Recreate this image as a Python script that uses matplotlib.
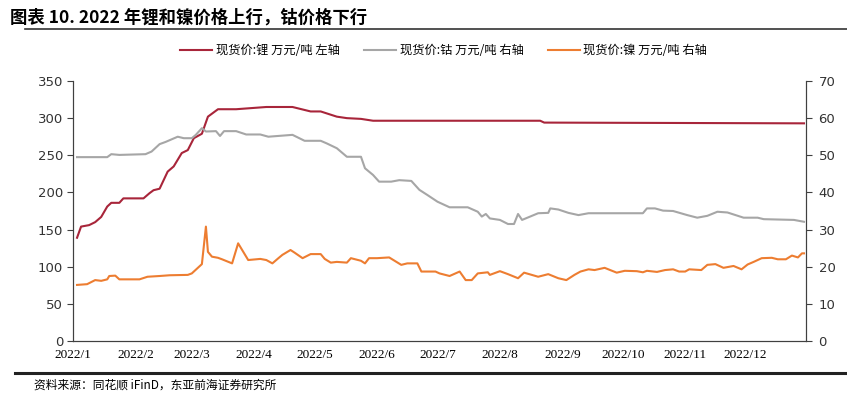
import matplotlib
matplotlib.use("Agg")
import matplotlib.pyplot as plt
import matplotlib.dates as mdates
import pandas as pd

plt.rcParams['font.family'] = ['Noto Sans CJK SC', 'DejaVu Sans']

# 锂 (左轴)
li_dates = ["01-03", "01-05", "01-09", "01-12", "01-15", "01-18", "01-20", "01-24", "01-26",
            "02-05", "02-08", "02-10", "02-13", "02-17", "02-20", "02-24", "02-27", "03-02",
            "03-06", "03-09", "03-11", "03-14", "03-23", "04-07", "04-20", "04-29", "05-04",
            "05-12", "05-17", "05-24", "05-30", "08-21", "08-23", "12-30"]
li_vals = [139, 154, 156, 160, 167, 181, 186, 186, 192,
           192, 199, 203, 205, 228, 235, 253, 257, 273,
           279, 302, 306, 312, 312, 315, 315, 309, 309,
           302, 300, 299, 296.5, 296.5, 294, 293]

# 钴 (右轴)
co_dates = ["01-03", "01-11", "01-18", "01-20", "01-24", "02-06", "02-09", "02-13", "02-16",
            "02-22", "02-25", "03-01", "03-03", "03-06", "03-08", "03-13", "03-15", "03-17",
            "03-23", "03-28", "04-04", "04-08", "04-20", "04-26", "05-04", "05-07", "05-12",
            "05-17", "05-24", "05-26", "05-28", "05-30", "06-02", "06-08", "06-12", "06-18",
            "06-22", "06-26", "07-01", "07-07", "07-16", "07-21", "07-23", "07-25", "07-27",
            "08-01", "08-05", "08-08", "08-10", "08-12", "08-16", "08-20", "08-25", "08-26",
            "08-30", "09-04", "09-09", "09-14", "10-11", "10-13", "10-17", "10-21", "10-26",
            "11-02", "11-07", "11-12", "11-17", "11-22", "11-30", "12-07", "12-10", "12-25",
            "12-30"]
co_vals = [49.5, 49.5, 49.5, 50.3, 50.1, 50.3, 51, 53, 53.6,
           55, 54.6, 54.6, 55.5, 57.3, 56.4, 56.5, 55.2, 56.5,
           56.5, 55.6, 55.6, 55, 55.5, 53.9, 53.9, 53.2, 51.9,
           49.6, 49.6, 46.5, 45.6, 44.7, 42.9, 42.9, 43.3, 43.1,
           40.7, 39.3, 37.5, 36, 36, 34.8, 33.5, 34.2, 33,
           32.6, 31.5, 31.5, 34.2, 32.6, 33.5, 34.4, 34.5, 35.7,
           35.4, 34.5, 33.9, 34.4, 34.4, 35.7, 35.7, 35.1, 35,
           33.9, 33.2, 33.7, 34.8, 34.6, 33.2, 33.2, 32.8, 32.6,
           32.1]

# 镍 (右轴)
ni_dates = ["01-03", "01-08", "01-12", "01-15", "01-18", "01-19", "01-22", "01-24", "02-03",
            "02-07", "02-13", "02-18", "02-27", "03-01", "03-06", "03-08", "03-09", "03-11",
            "03-14", "03-16", "03-21", "03-24", "03-29", "04-04", "04-07", "04-10", "04-13",
            "04-15", "04-19", "04-21", "04-25", "04-29", "05-04", "05-06", "05-09", "05-12",
            "05-17", "05-19", "05-24", "05-26", "05-28", "06-01", "06-07", "06-13", "06-16",
            "06-21", "06-23", "06-30", "07-02", "07-07", "07-12", "07-15", "07-18", "07-21",
            "07-26", "07-27", "08-01", "08-05", "08-10", "08-13", "08-20", "08-25", "08-30",
            "09-03", "09-07", "09-10", "09-14", "09-17", "09-22", "09-28", "10-02", "10-08",
            "10-11", "10-13", "10-18", "10-22", "10-26", "10-29", "11-01", "11-03", "11-09",
            "11-12", "11-16", "11-20", "11-25", "11-29", "12-02", "12-05", "12-09", "12-14",
            "12-17", "12-21", "12-24", "12-27", "12-29", "12-30"]
ni_vals = [15.1, 15.3, 16.4, 16.2, 16.6, 17.5, 17.6, 16.6, 16.6,
           17.3, 17.5, 17.7, 17.8, 18.2, 20.7, 30.8, 24, 22.7,
           22.4, 22, 20.9, 26.3, 21.8, 22.1, 21.8, 20.9, 22.3,
           23.2, 24.5, 23.8, 22.3, 23.4, 23.4, 22.1, 21.1, 21.3,
           21.1, 22.3, 21.6, 20.9, 22.3, 22.3, 22.5, 20.5, 20.9,
           20.9, 18.7, 18.7, 18.2, 17.5, 18.7, 16.4, 16.4, 18.2,
           18.5, 17.8, 18.8, 18, 16.9, 18.4, 17.3, 18, 16.9,
           16.4, 17.8, 18.7, 19.3, 19.1, 19.7, 18.4, 18.9, 18.8,
           18.5, 18.9, 18.6, 19.1, 19.3, 18.7, 18.7, 19.3, 19.1,
           20.5, 20.7, 19.7, 20.2, 19.3, 20.6, 21.3, 22.3, 22.4,
           22, 22, 23, 22.5, 23.6, 23.6]

month_labels = ["2022/%d" % m for m in range(1, 13)]

def to_dt(ds):
    return pd.to_datetime(["2022-" + d for d in ds])

red = "#A8253A"
gray = "#A6A6A6"
orange = "#ED7D31"

fig = plt.figure(figsize=(8.47, 3.98), dpi=100)
ax = fig.add_axes([0.0862, 0.1432, 0.8654, 0.6533])
ax2 = ax.twinx()

l1, = ax.plot(to_dt(li_dates), li_vals, color=red, lw=1.5, label="现货价:锂 万元/吨 左轴")
l2, = ax2.plot(to_dt(co_dates), co_vals, color=gray, lw=1.5, label="现货价:钴 万元/吨 右轴")
l3, = ax2.plot(to_dt(ni_dates), ni_vals, color=orange, lw=1.5, label="现货价:镍 万元/吨 右轴")

ax.set_xlim(pd.Timestamp("2022-01-01"), pd.Timestamp("2022-12-31"))
ax.set_ylim(0, 350)
ax2.set_ylim(0, 70)
ax.set_yticks(range(0, 351, 50))
ax2.set_yticks(range(0, 71, 10))

ax.xaxis.set_major_locator(mdates.MonthLocator())
ax.xaxis.set_major_formatter(plt.FixedFormatter(month_labels))
ax.tick_params(axis='x', length=0, pad=6)
for lab in ax.get_xticklabels():
    lab.set_fontfamily("Liberation Serif")
    lab.set_fontsize(9.5)

for a in (ax, ax2):
    a.spines['top'].set_visible(False)
    a.spines['left'].set_color("#404040")
    a.spines['right'].set_color("#404040")
    a.spines['bottom'].set_color("#404040")
    a.tick_params(axis='y', length=4, color="#404040", labelsize=9.5, labelcolor="#333333")
    for lab in a.get_yticklabels():
        lab.set_fontfamily("DejaVu Sans")
ax.tick_params(axis='y', pad=3)
ax2.tick_params(axis='y', pad=5)

fig.legend(handles=[l1, l2, l3], loc='center', bbox_to_anchor=(0.524, 0.872), ncol=3,
           frameon=False, fontsize=8.8, handlelength=2.6, columnspacing=2.0, handletextpad=0.3)

fig.text(0.012, 0.955, "图表 10. 2022 年锂和镍价格上行，钴价格下行", fontsize=12.5,
         fontweight='bold', va='center', ha='left')
fig.add_artist(plt.Line2D([0.03, 1.0], [0.928, 0.928], color="#333333", lw=1.2))
fig.add_artist(plt.Line2D([0.018, 1.0], [0.062, 0.062], color="#222222", lw=2.2))
fig.text(0.04, 0.032, "资料来源：同花顺 iFinD，东亚前海证券研究所", fontsize=8.5, va='center', ha='left')

fig.savefig("out.png", dpi=100)
